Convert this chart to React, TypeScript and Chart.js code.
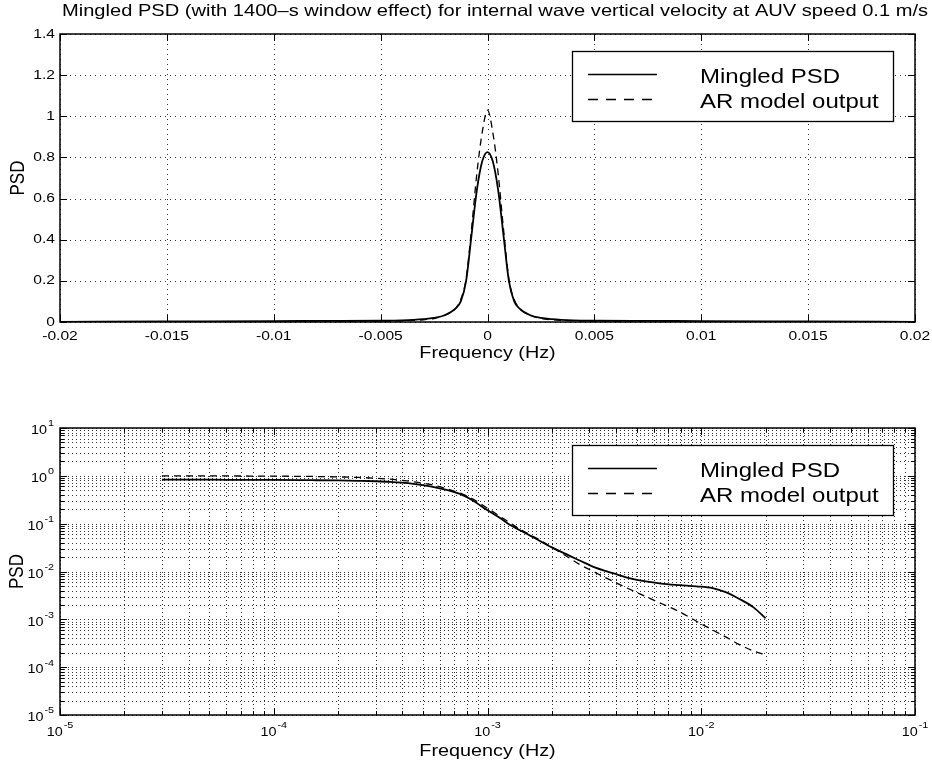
import React, { useEffect, useRef } from 'react';
import { Chart, registerables } from 'chart.js';

Chart.register(...registerables);

// ---------------- data ----------------
const titleText = 'Mingled PSD (with 1400–s window effect) for internal wave vertical velocity at AUV speed 0.1 m/s';
const xAxisTitle = 'Frequency (Hz)';
const yAxisTitle = 'PSD';
const legendLabels = ['Mingled PSD', 'AR model output'];

// top panel (linear)
const topFreq = [-0.02, -0.015, -0.01, -0.0075, -0.005, -0.004, -0.003, -0.0025, -0.002, -0.0015, -0.00125, -0.001, -0.00075, -0.0005, -0.00025, 0, 0.00025, 0.0005, 0.00075, 0.001, 0.00125, 0.0015, 0.002, 0.0025, 0.003, 0.004, 0.005, 0.0075, 0.01, 0.015, 0.02];
const topMingled = [0.001, 0.0027, 0.0045, 0.005, 0.006, 0.008, 0.014, 0.02, 0.033, 0.065, 0.1, 0.2, 0.42, 0.64, 0.78, 0.826, 0.78, 0.64, 0.42, 0.2, 0.1, 0.065, 0.033, 0.02, 0.014, 0.008, 0.006, 0.005, 0.0045, 0.0027, 0.001];
const topAR = [0.0002, 0.0003, 0.0006, 0.0012, 0.003, 0.006, 0.011, 0.017, 0.033, 0.065, 0.11, 0.21, 0.45, 0.72, 0.92, 1.03, 0.92, 0.72, 0.45, 0.21, 0.11, 0.065, 0.033, 0.017, 0.011, 0.006, 0.003, 0.0012, 0.0006, 0.0003, 0.0002];
const topXTicks = [-0.02, -0.015, -0.01, -0.005, 0, 0.005, 0.01, 0.015, 0.02];
const topXTickLabels = ['-0.02', '-0.015', '-0.01', '-0.005', '0', '0.005', '0.01', '0.015', '0.02'];
const topYTicks = [0, 0.2, 0.4, 0.6, 0.8, 1, 1.2, 1.4];
const topYTickLabels = ['0', '0.2', '0.4', '0.6', '0.8', '1', '1.2', '1.4'];

// bottom panel (log-log)
const logFreq = [3e-5, 5e-5, 7.7e-5, 1e-4, 1.5e-4, 2e-4, 2.5e-4, 3e-4, 3.5e-4, 4e-4, 4.5e-4, 5.4e-4, 6.5e-4, 7.6e-4, 8.5e-4, 1e-3, 1.15e-3, 1.27e-3, 1.41e-3, 1.6e-3, 1.75e-3, 2e-3, 2.2e-3, 2.7e-3, 3.2e-3, 3.9e-3, 4.6e-3, 5.5e-3, 6.5e-3, 7.9e-3, 9.5e-3, 1.13e-2, 1.3e-2, 1.5e-2, 1.75e-2, 2e-2];
const logMingled = [0.83, 0.83, 0.82, 0.82, 0.81, 0.8, 0.785, 0.77, 0.75, 0.72, 0.68, 0.6, 0.5, 0.4, 0.31, 0.19, 0.13, 0.095, 0.074, 0.055, 0.044, 0.032, 0.026, 0.017, 0.012, 0.0091, 0.0073, 0.0062, 0.0056, 0.0052, 0.0049, 0.0045, 0.0037, 0.0027, 0.0018, 0.00105];
const logAR = [1.0, 1.0, 0.99, 0.985, 0.97, 0.95, 0.925, 0.89, 0.85, 0.8, 0.75, 0.66, 0.53, 0.42, 0.33, 0.21, 0.14, 0.105, 0.078, 0.057, 0.046, 0.032, 0.025, 0.014, 0.0095, 0.0061, 0.0043, 0.003, 0.00214, 0.00144, 0.00091, 0.0006, 0.00043, 0.0003, 0.00022, 0.00018];
const logXDecades = [-5, -4, -3, -2, -1];
const logYDecades = [-5, -4, -3, -2, -1, 0, 1];
const minorMultipliers = [2, 3, 4, 5, 6, 7, 8, 9];

// ---------------- drawing helpers ----------------
const FONT = '"Liberation Sans", Arial, Helvetica, sans-serif';
const SX = 1.2;

function sText(ctx: CanvasRenderingContext2D, text: string, x: number, y: number, size: number, align = 'left', baseline: CanvasTextBaseline = 'alphabetic', sx = SX) {
  ctx.save();
  ctx.font = `${size}px ${FONT}`;
  ctx.textBaseline = baseline;
  ctx.textAlign = 'left';
  ctx.fillStyle = '#000';
  const w = ctx.measureText(text).width * sx;
  let x0 = x;
  if (align === 'center') x0 = x - w / 2;
  else if (align === 'right') x0 = x - w;
  ctx.translate(x0, y);
  ctx.scale(sx, 1);
  ctx.fillText(text, 0, 0);
  ctx.restore();
  return w;
}

function measure(ctx: CanvasRenderingContext2D, text: string, size: number, sx = SX) {
  ctx.save();
  ctx.font = `${size}px ${FONT}`;
  const w = ctx.measureText(text).width * sx;
  ctx.restore();
  return w;
}

function powLabel(ctx: CanvasRenderingContext2D, exp: number, x: number, y: number, align: string) {
  const base = '10';
  const ex = String(exp);
  const wb = measure(ctx, base, 12);
  const we = measure(ctx, ex, 9);
  const total = wb + we + 1;
  let x0 = x;
  if (align === 'center') x0 = x - total / 2;
  else if (align === 'right') x0 = x - total;
  sText(ctx, base, x0, y + 3, 12, 'left', 'middle');
  sText(ctx, ex, x0 + wb + 1, y - 4, 9, 'left', 'middle');
}

function rotatedLabel(ctx: CanvasRenderingContext2D, text: string, x: number, y: number, size: number) {
  ctx.save();
  ctx.translate(x, y);
  ctx.rotate(-Math.PI / 2);
  ctx.scale(1, SX);
  ctx.font = `${size}px ${FONT}`;
  ctx.textAlign = 'center';
  ctx.textBaseline = 'middle';
  ctx.fillStyle = '#000';
  ctx.fillText(text, 0, 0);
  ctx.restore();
}

function drawLegend(ctx: CanvasRenderingContext2D, area: any) {
  const bx = area.left + 512;
  const by = area.top + 17;
  const bw = 321;
  const bh = 70;
  ctx.save();
  ctx.fillStyle = '#fff';
  ctx.fillRect(bx, by, bw, bh);
  ctx.strokeStyle = '#000';
  ctx.lineWidth = 1.3;
  ctx.setLineDash([]);
  ctx.strokeRect(bx + 0.5, by + 0.5, bw, bh);
  ctx.lineWidth = 1.6;
  ctx.beginPath();
  ctx.moveTo(bx + 16, by + 23.5);
  ctx.lineTo(bx + 85, by + 23.5);
  ctx.stroke();
  ctx.lineWidth = 1.3;
  ctx.setLineDash([10, 8]);
  ctx.beginPath();
  ctx.moveTo(bx + 16, by + 48.5);
  ctx.lineTo(bx + 85, by + 48.5);
  ctx.stroke();
  ctx.restore();
  sText(ctx, legendLabels[0], bx + 128, by + 32, 20, 'left', 'alphabetic', 1.2);
  sText(ctx, legendLabels[1], bx + 128, by + 57, 20, 'left', 'alphabetic', 1.2);
}

function vline(ctx: CanvasRenderingContext2D, x: number, y0: number, y1: number) {
  const px = Math.round(x) + 0.5;
  ctx.beginPath();
  ctx.moveTo(px, y0);
  ctx.lineTo(px, y1);
  ctx.stroke();
}
function hline(ctx: CanvasRenderingContext2D, y: number, x0: number, x1: number) {
  const py = Math.round(y) + 0.5;
  ctx.beginPath();
  ctx.moveTo(x0, py);
  ctx.lineTo(x1, py);
  ctx.stroke();
}

// ---------------- plugins ----------------
const topPlugin = {
  id: 'topDecor',
  beforeDatasetsDraw(chart: any) {
    const { ctx, chartArea: a, scales } = chart;
    const xs = scales.x, ys = scales.y;
    ctx.save();
    ctx.strokeStyle = '#333';
    ctx.lineWidth = 1;
    ctx.setLineDash([1, 4]);
    topXTicks.forEach((v) => vline(ctx, xs.getPixelForValue(v), a.top, a.bottom));
    topYTicks.forEach((v) => hline(ctx, ys.getPixelForValue(v), a.left, a.right));
    ctx.restore();
  },
  afterDraw(chart: any) {
    const { ctx, chartArea: a, scales } = chart;
    const xs = scales.x, ys = scales.y;
    ctx.save();
    ctx.strokeStyle = '#000';
    ctx.lineWidth = 1.5;
    ctx.setLineDash([]);
    ctx.strokeRect(a.left, a.top, a.right - a.left, a.bottom - a.top);
    ctx.lineWidth = 1;
    topXTicks.forEach((v) => {
      const px = xs.getPixelForValue(v);
      vline(ctx, px, a.bottom - 7, a.bottom);
      vline(ctx, px, a.top, a.top + 7);
    });
    topYTicks.forEach((v) => {
      const py = ys.getPixelForValue(v);
      hline(ctx, py, a.left, a.left + 7);
      hline(ctx, py, a.right - 7, a.right);
    });
    ctx.restore();
    topXTicks.forEach((v, i) => sText(ctx, topXTickLabels[i], xs.getPixelForValue(v), a.bottom + 14, 13, 'center', 'middle'));
    topYTicks.forEach((v, i) => sText(ctx, topYTickLabels[i], a.left - 5, ys.getPixelForValue(v), 13, 'right', 'middle'));
    sText(ctx, xAxisTitle, (a.left + a.right) / 2, a.bottom + 31, 16.5, 'center', 'middle');
    rotatedLabel(ctx, yAxisTitle, 18, (a.top + a.bottom) / 2, 17);
    ctx.save();
    ctx.font = `16.5px ${FONT}`;
    const tw = ctx.measureText(titleText).width;
    ctx.restore();
    const targetW = 866;
    sText(ctx, titleText, 62, 11, 16.5, 'left', 'middle', targetW / tw);
    drawLegend(ctx, a);
  },
};

const bottomPlugin = {
  id: 'bottomDecor',
  beforeDatasetsDraw(chart: any) {
    const { ctx, chartArea: a, scales } = chart;
    const xs = scales.x, ys = scales.y;
    ctx.save();
    ctx.strokeStyle = '#333';
    ctx.lineWidth = 1;
    ctx.setLineDash([1, 3]);
    logXDecades.forEach((d) => {
      vline(ctx, xs.getPixelForValue(Math.pow(10, d)), a.top, a.bottom);
      if (d < -1) minorMultipliers.forEach((m) => vline(ctx, xs.getPixelForValue(m * Math.pow(10, d)), a.top, a.bottom));
    });
    logYDecades.forEach((d) => {
      hline(ctx, ys.getPixelForValue(Math.pow(10, d)), a.left, a.right);
      if (d < 1) minorMultipliers.forEach((m) => hline(ctx, ys.getPixelForValue(m * Math.pow(10, d)), a.left, a.right));
    });
    ctx.restore();
  },
  afterDraw(chart: any) {
    const { ctx, chartArea: a, scales } = chart;
    const xs = scales.x, ys = scales.y;
    ctx.save();
    ctx.strokeStyle = '#000';
    ctx.lineWidth = 1.5;
    ctx.setLineDash([]);
    ctx.strokeRect(a.left, a.top, a.right - a.left, a.bottom - a.top);
    ctx.lineWidth = 1;
    logXDecades.forEach((d) => {
      const px = xs.getPixelForValue(Math.pow(10, d));
      vline(ctx, px, a.bottom - 7, a.bottom);
      vline(ctx, px, a.top, a.top + 7);
      if (d < -1) minorMultipliers.forEach((m) => {
        const mx = xs.getPixelForValue(m * Math.pow(10, d));
        vline(ctx, mx, a.bottom - 4, a.bottom);
        vline(ctx, mx, a.top, a.top + 4);
      });
    });
    logYDecades.forEach((d) => {
      const py = ys.getPixelForValue(Math.pow(10, d));
      hline(ctx, py, a.left, a.left + 7);
      hline(ctx, py, a.right - 7, a.right);
      if (d < 1) minorMultipliers.forEach((m) => {
        const my = ys.getPixelForValue(m * Math.pow(10, d));
        hline(ctx, my, a.left, a.left + 4);
        hline(ctx, my, a.right - 4, a.right);
      });
    });
    ctx.restore();
    logXDecades.forEach((d) => powLabel(ctx, d, xs.getPixelForValue(Math.pow(10, d)), a.bottom + 15, 'center'));
    logYDecades.forEach((d) => powLabel(ctx, d, a.left - 6, ys.getPixelForValue(Math.pow(10, d)), 'right'));
    sText(ctx, xAxisTitle, (a.left + a.right) / 2, a.bottom + 36, 16.5, 'center', 'middle');
    rotatedLabel(ctx, yAxisTitle, 17, (a.top + a.bottom) / 2, 17);
    drawLegend(ctx, a);
  },
};

function seriesStyle(dashed: boolean) {
  return {
    borderColor: '#000',
    borderWidth: dashed ? 1.3 : 1.8,
    borderDash: dashed ? [7, 5] : [],
    pointRadius: 0,
    fill: false,
    cubicInterpolationMode: 'monotone' as const,
  };
}

export default function App() {
  const topRef = useRef<HTMLCanvasElement | null>(null);
  const botRef = useRef<HTMLCanvasElement | null>(null);

  useEffect(() => {
    document.body.style.margin = '0';
    const top = new Chart(topRef.current as HTMLCanvasElement, {
      type: 'line',
      data: {
        datasets: [
          { label: legendLabels[0], data: topFreq.map((f, i) => ({ x: f, y: topMingled[i] })), ...seriesStyle(false) },
          { label: legendLabels[1], data: topFreq.map((f, i) => ({ x: f, y: topAR[i] })), ...seriesStyle(true) },
        ],
      },
      options: {
        responsive: false,
        animation: false,
        devicePixelRatio: 1,
        layout: { padding: { left: 60, right: 17, top: 34, bottom: 61 } },
        plugins: { legend: { display: false }, tooltip: { enabled: false }, title: { display: false } },
        scales: {
          x: { type: 'linear', min: -0.02, max: 0.02, display: false },
          y: { type: 'linear', min: 0, max: 1.4, display: false },
        },
      },
      plugins: [topPlugin],
    });
    const bottom = new Chart(botRef.current as HTMLCanvasElement, {
      type: 'line',
      data: {
        datasets: [
          { label: legendLabels[0], data: logFreq.map((f, i) => ({ x: f, y: logMingled[i] })), ...seriesStyle(false) },
          { label: legendLabels[1], data: logFreq.map((f, i) => ({ x: f, y: logAR[i] })), ...seriesStyle(true) },
        ],
      },
      options: {
        responsive: false,
        animation: false,
        devicePixelRatio: 1,
        layout: { padding: { left: 60, right: 17, top: 45, bottom: 52 } },
        plugins: { legend: { display: false }, tooltip: { enabled: false }, title: { display: false } },
        scales: {
          x: { type: 'logarithmic', min: 1e-5, max: 1e-1, display: false },
          y: { type: 'logarithmic', min: 1e-5, max: 10, display: false },
        },
      },
      plugins: [bottomPlugin],
    });
    return () => {
      top.destroy();
      bottom.destroy();
    };
  }, []);

  return (
    <div style={{ position: 'absolute', left: 0, top: 0, width: 932, height: 767, background: '#fff' }}>
      <canvas ref={topRef} width={932} height={383} style={{ position: 'absolute', left: 0, top: 0 }} />
      <canvas ref={botRef} width={932} height={384} style={{ position: 'absolute', left: 0, top: 383 }} />
    </div>
  );
}
